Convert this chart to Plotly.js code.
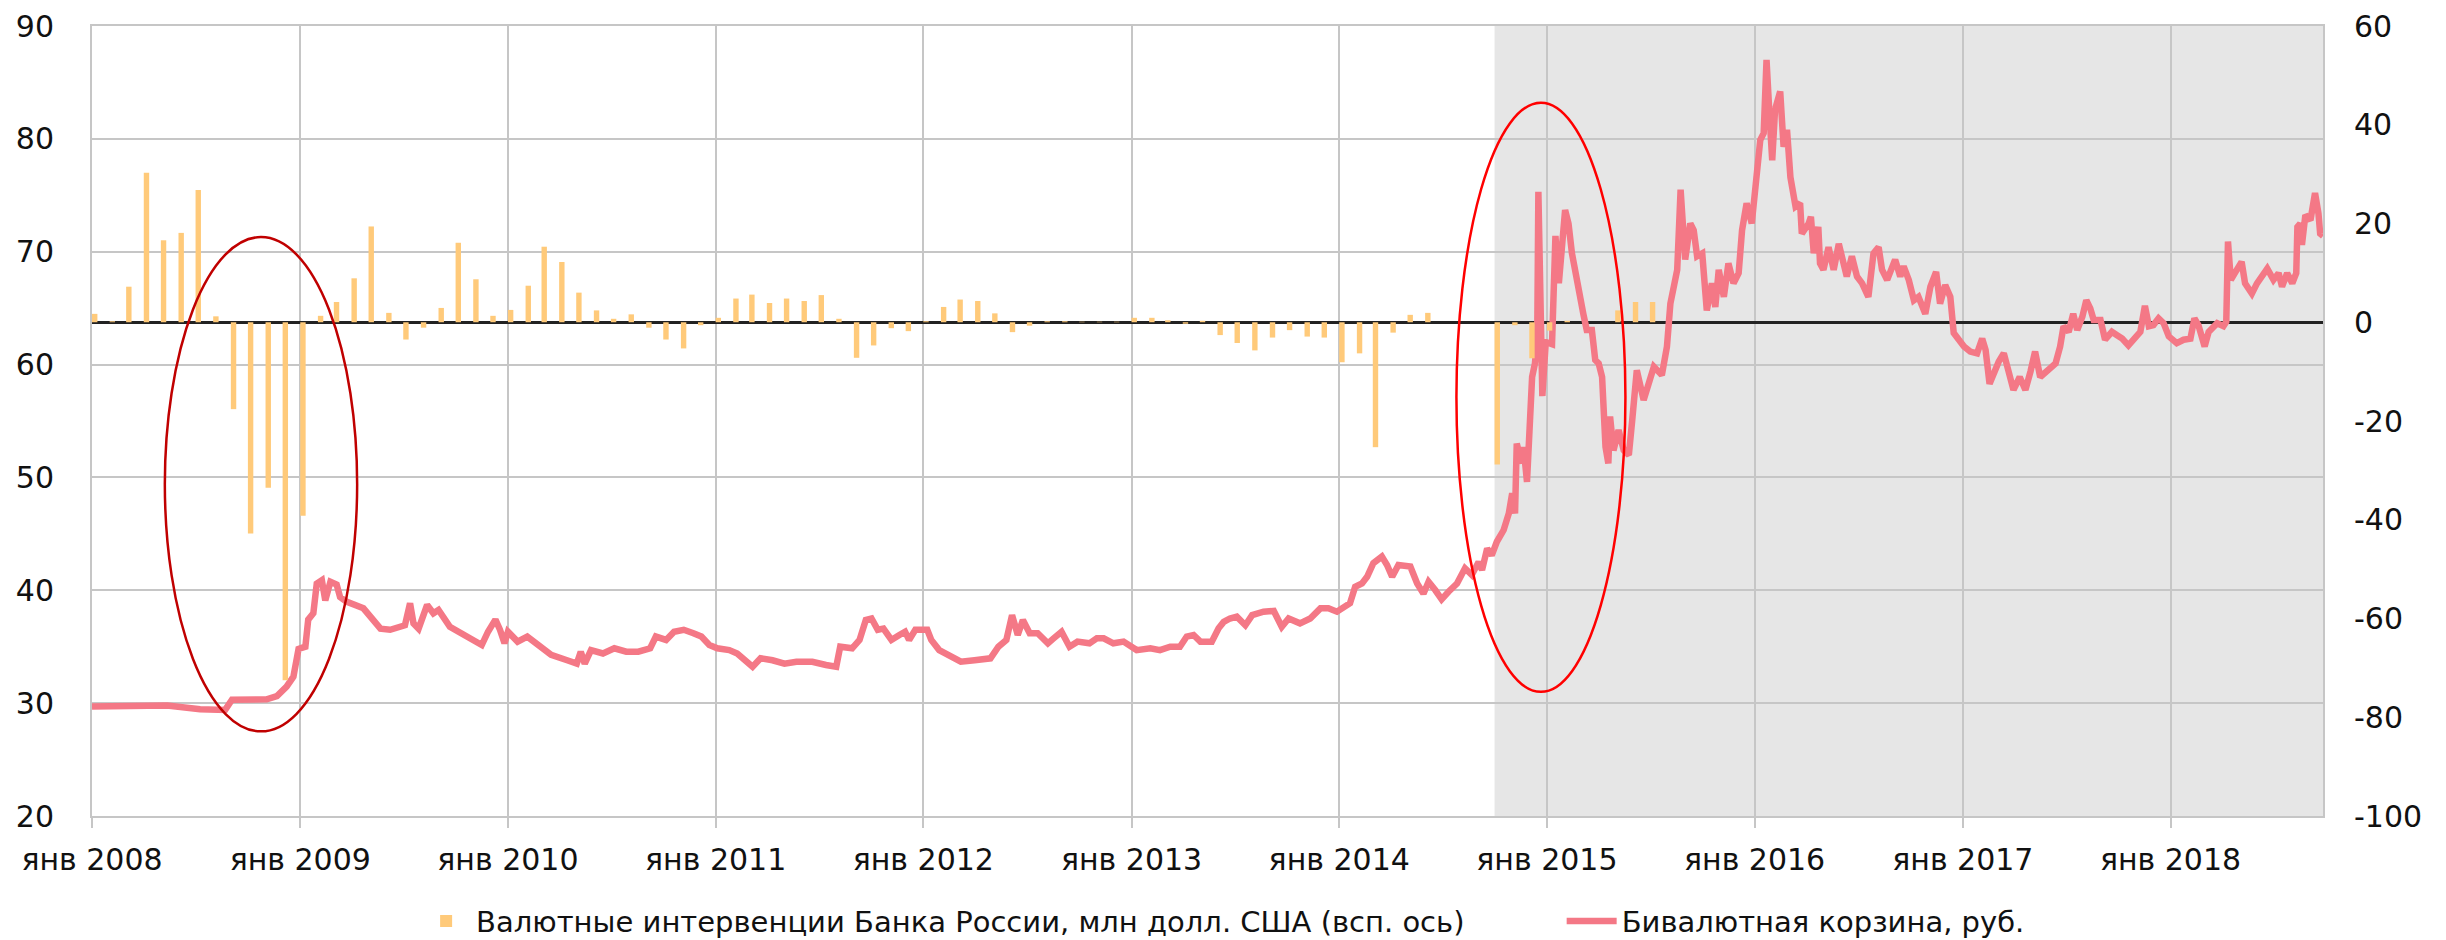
<!DOCTYPE html>
<html>
<head>
<meta charset="utf-8">
<script src="https://cdn.plot.ly/plotly-3.0.1.min.js"></script>
<style>
html,body{margin:0;padding:0;background:#fff;}
#chart{width:2446px;height:940px;}
</style>
</head>
<body>
<div id="chart"></div>
<script>
// ---------- DATA ----------
// Бивалютная корзина, руб. (readings from the picture)
const basketDates = [
 '2008-01-01','2008-02-19','2008-03-20','2008-05-12','2008-07-09','2008-08-08','2008-08-22','2008-09-03','2008-11-03','2008-11-21','2008-12-08','2008-12-20','2008-12-29',
 '2009-01-10','2009-01-15','2009-01-24','2009-01-30','2009-02-08','2009-02-14','2009-02-23','2009-03-06','2009-03-12','2009-03-23','2009-04-22','2009-05-22','2009-06-08','2009-07-04','2009-07-13','2009-07-19','2009-07-28','2009-08-12','2009-08-23','2009-09-01','2009-09-21','2009-10-21','2009-11-16','2009-11-27','2009-12-10','2009-12-18','2009-12-26',
 '2010-01-01','2010-01-18','2010-02-04','2010-02-25','2010-03-18','2010-04-15','2010-05-02','2010-05-09','2010-05-16','2010-05-27','2010-06-17','2010-07-07','2010-07-28','2010-08-18','2010-09-08','2010-09-18','2010-10-06','2010-10-20','2010-11-06','2010-11-23','2010-12-07','2010-12-21',
 '2011-01-04','2011-01-25','2011-02-08','2011-03-07','2011-03-21','2011-04-11','2011-05-02','2011-05-23','2011-06-20','2011-07-14','2011-08-01','2011-08-08','2011-08-29','2011-09-11','2011-09-22','2011-10-02','2011-10-13','2011-10-23','2011-11-06','2011-11-20','2011-11-30','2011-12-07','2011-12-18',
 '2012-01-08','2012-01-15','2012-01-29','2012-02-18','2012-03-07','2012-03-31','2012-04-28','2012-05-12','2012-05-26','2012-06-05','2012-06-15','2012-06-24','2012-07-06','2012-07-20','2012-08-07','2012-08-17','2012-08-31','2012-09-14','2012-09-28','2012-10-19','2012-11-01','2012-11-13','2012-11-30','2012-12-18',
 '2013-01-10','2013-02-03','2013-02-20','2013-03-10','2013-03-27','2013-04-08','2013-04-20','2013-05-02','2013-05-22','2013-06-03','2013-06-12','2013-06-23','2013-07-05','2013-07-20','2013-08-01','2013-08-21','2013-09-08','2013-09-22','2013-10-04','2013-10-24','2013-11-11','2013-11-29','2013-12-13','2013-12-28',
 '2014-01-20','2014-01-29','2014-02-10','2014-02-19','2014-03-02','2014-03-17','2014-03-26','2014-04-04','2014-04-15','2014-05-06','2014-05-18','2014-05-29','2014-06-07','2014-06-19','2014-06-30','2014-07-12','2014-07-27','2014-08-10','2014-08-22','2014-09-03','2014-09-09','2014-09-18','2014-09-26','2014-10-05','2014-10-17','2014-10-26','2014-11-01','2014-11-06','2014-11-09','2014-11-18','2014-11-21','2014-11-27','2014-12-03','2014-12-06','2014-12-11','2014-12-15','2014-12-17','2014-12-20','2014-12-24','2014-12-30',
 '2015-01-10','2015-01-16','2015-01-22','2015-02-02','2015-02-08','2015-02-14','2015-02-23','2015-03-01','2015-03-06','2015-03-12','2015-03-21','2015-03-27','2015-04-02','2015-04-08','2015-04-14','2015-04-19','2015-04-22','2015-04-28','2015-05-07','2015-05-16','2015-05-25','2015-05-31','2015-06-08','2015-06-20','2015-06-29','2015-07-08','2015-07-22','2015-07-31','2015-08-06','2015-08-12','2015-08-18','2015-08-24','2015-09-01','2015-09-10','2015-09-16','2015-09-22','2015-10-01','2015-10-09','2015-10-18','2015-10-24','2015-10-30','2015-11-08','2015-11-16','2015-11-25','2015-12-04','2015-12-10','2015-12-18','2015-12-27',
 '2016-01-02','2016-01-11','2016-01-17','2016-01-22','2016-01-27','2016-02-01','2016-02-06','2016-02-15','2016-02-21','2016-02-27','2016-03-04','2016-03-13','2016-03-21','2016-03-24','2016-04-05','2016-04-09','2016-04-14','2016-04-22','2016-04-25','2016-05-01','2016-05-10','2016-05-19','2016-05-28','2016-06-05','2016-06-11','2016-06-20','2016-06-29','2016-07-08','2016-07-19','2016-07-28','2016-08-06','2016-08-12','2016-08-21','2016-09-04','2016-09-13','2016-09-19','2016-09-28','2016-10-07','2016-10-15','2016-10-27','2016-11-05','2016-11-15','2016-11-22','2016-12-01','2016-12-10','2016-12-16','2016-12-25',
 '2017-01-03','2017-01-14','2017-01-26','2017-02-04','2017-02-10','2017-02-17','2017-02-24','2017-03-05','2017-03-14','2017-03-22','2017-03-31','2017-04-11','2017-04-21','2017-04-30','2017-05-08','2017-05-17','2017-05-29','2017-06-13','2017-06-21','2017-06-27','2017-07-06','2017-07-14','2017-07-21','2017-07-30','2017-08-06','2017-08-13','2017-08-19','2017-08-31','2017-09-08','2017-09-20','2017-09-29','2017-10-08','2017-10-19','2017-10-28','2017-11-09','2017-11-17','2017-11-24','2017-12-02','2017-12-11','2017-12-20','2017-12-29',
 '2018-01-12','2018-01-24','2018-02-05','2018-02-12','2018-02-19','2018-03-02','2018-03-09','2018-03-24','2018-04-04','2018-04-09','2018-04-12','2018-04-17','2018-04-24','2018-05-06','2018-05-12','2018-05-24','2018-06-02','2018-06-10','2018-06-20','2018-07-01','2018-07-10','2018-07-16','2018-07-25','2018-08-03','2018-08-10','2018-08-12','2018-08-17','2018-08-20','2018-08-26','2018-09-04','2018-09-12','2018-09-18','2018-09-21','2018-09-26'
];
const basketValues = [
 29.7,29.75,29.7,29.8,29.45,29.33,29.4,30.3,30.34,30.63,31.46,32.35,34.8,
 35.0,37.4,37.96,40.6,40.9,39.1,40.76,40.5,39.4,39.0,38.4,36.6,36.5,36.9,38.85,37.07,36.6,38.7,37.96,38.25,36.77,35.9,35.15,36.33,37.4,36.5,35.3,
 36.33,35.45,35.9,35.0,34.27,33.8,33.5,34.56,33.5,34.7,34.4,34.86,34.56,34.56,34.86,35.9,35.6,36.33,36.5,36.2,35.9,35.15,
 34.86,34.7,34.4,33.23,33.97,33.8,33.5,33.67,33.67,33.38,33.23,35.0,34.86,35.6,37.37,37.5,36.5,36.6,35.6,36.04,36.33,35.6,36.5,
 36.5,35.6,34.7,34.1,33.67,33.8,33.97,35.0,35.6,37.8,36.04,37.37,36.2,36.2,35.3,35.74,36.33,35.0,35.45,35.3,35.74,35.74,35.3,35.45,
 34.7,34.86,34.7,35.0,35.0,35.9,36.04,35.45,35.45,36.63,37.2,37.5,37.66,36.9,37.8,38.1,38.17,36.77,37.5,37.07,37.5,38.4,38.4,38.1,
 38.85,40.3,40.6,41.2,42.4,42.98,42.24,41.2,42.24,42.1,40.6,39.7,40.76,40.0,39.2,39.87,40.6,41.95,41.36,42.5,41.8,43.7,43.1,44.3,45.34,46.8,48.6,46.8,53.0,51.25,52.7,49.6,56.0,58.9,60.1,62.5,75.3,66.9,57.2,62.0,
 61.8,71.4,67.2,73.7,72.5,69.86,67.2,65.4,64.5,63.06,63.06,60.4,60.1,58.9,52.7,51.25,55.4,52.4,54.2,52.4,51.99,55.1,59.5,56.86,58.3,59.8,59.07,61.6,65.4,67.2,68.4,75.5,69.3,72.5,71.9,69.6,69.86,64.8,67.2,65.1,68.4,66.0,68.97,67.2,68.1,71.9,74.3,72.5,
 76.06,79.9,80.5,87.0,82.3,78.1,82.6,84.2,79.3,80.8,76.6,74.0,74.3,71.6,72.5,73.1,69.86,72.2,68.97,68.4,70.4,68.4,70.7,68.97,67.8,69.6,67.8,67.2,66.0,69.86,70.4,68.4,67.5,69.3,67.8,68.7,67.5,65.7,66.0,64.5,66.9,68.2,65.4,67.05,66.0,62.8,62.2,
 61.6,61.15,61.0,62.3,61.3,58.3,59.2,60.26,61.0,59.4,57.75,58.9,57.75,59.4,61.15,58.9,59.5,60.1,61.6,63.4,62.9,64.5,63.06,64.24,65.7,64.98,63.95,63.95,62.2,62.9,62.6,62.3,61.7,62.3,62.9,65.2,63.4,63.5,64.1,63.66,62.5,
 61.9,62.2,62.3,64.1,63.5,61.6,62.9,63.66,63.4,63.8,70.9,67.5,68.1,69.1,67.2,66.3,67.2,67.8,68.5,67.5,68.1,66.9,68.1,67.2,68.1,72.2,72.5,70.6,73.25,72.8,75.2,73.4,71.6,71.4
];

// Валютные интервенции Банка России, млн долл. США (monthly, Jan..Dec)
const interventionYears = [2008, 2009, 2010, 2011, 2012, 2013, 2014, 2015];
const intervention2008 = [1.7, 0.2, 7.2, 30.3, 16.6, 18.1, 26.8, 1.2, -17.6, -42.8, -33.5, -72.5];
const intervention2009 = [-39.2, 1.3, 4.1, 8.9, 19.4, 1.9, -3.5, -1.1, 2.9, 16.1, 8.7, 1.3];
const intervention2010 = [2.5, 7.4, 15.3, 12.2, 6.0, 2.4, 0.7, 1.6, -1.1, -3.5, -5.3, -0.6];
const intervention2011 = [0.9, 4.8, 5.6, 3.9, 4.8, 4.3, 5.5, 0.7, -7.2, -4.7, -1.2, -1.8];
const intervention2012 = [0.2, 3.1, 4.6, 4.3, 1.8, -2.0, -0.7, 0.2, 0.2, 0.1, 0.1, 0.1];
const intervention2013 = [0.9, 0.9, 0.4, -0.3, 0.3, -2.6, -4.2, -5.7, -3.1, -1.6, -2.9, -3.1];
const intervention2014 = [-8.1, -6.3, -25.3, -2.1, 1.5, 1.9, 0, 0, 0, -28.8, -0.6, -7.3];
const intervention2015 = [-1.7, 0.3, 0, 0, 2.4, 4.1, 4.1];
const interventionByYear = [intervention2008, intervention2009, intervention2010, intervention2011,
                            intervention2012, intervention2013, intervention2014, intervention2015];

// Axis ticks
const xTickVals = ['2008-01-01','2009-01-01','2010-01-01','2011-01-01','2012-01-01','2013-01-01',
                   '2014-01-01','2015-01-01','2016-01-01','2017-01-01','2018-01-01'];
const xTickText = ['янв 2008','янв 2009','янв 2010','янв 2011','янв 2012','янв 2013',
                   'янв 2014','янв 2015','янв 2016','янв 2017','янв 2018'];
const leftTicks = [20, 30, 40, 50, 60, 70, 80, 90];
const rightTicks = [-100, -80, -60, -40, -20, 0, 20, 40, 60];
const rightTickText = ['-100', '-80', '-60', '-40', '-20', '0', '20', '40', '60'];
const xRange = ['2008-01-01', '2018-09-26'];
const shadeStart = '2014-10-01';
// highlighted periods (ellipses): [date from, date to, basket value low, basket value high]
const highlight2008 = ['2008-05-08', '2009-04-11', 27.5, 71.3];
const highlight2014 = ['2014-07-26', '2015-05-19', 31.0, 83.2];

const nameBars = 'Валютные интервенции Банка России, млн долл. США (всп. ось)';
const nameLine = 'Бивалютная корзина, руб.';
const legendGap = '\u00a0'.repeat(10); // spacing between the two legend entries

// ---------- BUILD ----------
const barX = [], barY = [];
interventionYears.forEach((yr, i) => {
  interventionByYear[i].forEach((v, m) => {
    barX.push(yr + '-' + String(m + 1).padStart(2, '0') + '-01');
    barY.push(v);
  });
});

const DAY = 86400000;

const traces = [
  {
    type: 'bar', name: nameBars + legendGap, x: barX, y: barY, yaxis: 'y2',
    width: 9.5 * DAY, offset: 0,
    marker: {color: '#ffca7a', line: {width: 0}},
    hoverinfo: 'skip'
  },
  {
    type: 'scatter', mode: 'lines', name: nameLine, x: basketDates, y: basketValues,
    line: {color: '#f47886', width: 6.5},
    hoverinfo: 'skip'
  }
];

const gridC = '#c6c6c6';
const layout = {
  width: 2446, height: 940,
  margin: {l: 92, r: 123, t: 26, b: 124, pad: 0, autoexpand: false},
  paper_bgcolor: '#ffffff', plot_bgcolor: '#ffffff',
  font: {family: 'DejaVu Sans, sans-serif', size: 30, color: '#111111'},
  showlegend: true,
  legend: {
    orientation: 'h', x: 0.507, xanchor: 'center', y: -0.133, yanchor: 'middle',
    font: {size: 29, color: '#111111'}, bgcolor: 'rgba(0,0,0,0)', itemwidth: 50,
    traceorder: 'normal'
  },
  xaxis: {
    type: 'date', range: xRange, tickvals: xTickVals, ticktext: xTickText,
    showgrid: true, gridcolor: gridC, gridwidth: 2,
    ticks: 'outside', ticklen: 10, tickwidth: 2, tickcolor: gridC,
    showline: true, linecolor: gridC, linewidth: 2, mirror: true,
    zeroline: false, ticklabelstandoff: 6, fixedrange: true
  },
  yaxis: {
    range: [20, 90], tickvals: leftTicks,
    showgrid: true, gridcolor: gridC, gridwidth: 2,
    showline: true, linecolor: gridC, linewidth: 2, mirror: true,
    ticks: '', zeroline: false, ticklabelstandoff: 30, fixedrange: true
  },
  yaxis2: {
    overlaying: 'y', side: 'right', range: [-100, 60], tickvals: rightTicks, ticktext: rightTickText,
    showgrid: false, showline: false, ticks: '',
    zeroline: true, zerolinecolor: '#222222', zerolinewidth: 3,
    ticklabelstandoff: 30, fixedrange: true
  },
  shapes: [
    {type: 'rect', xref: 'x', yref: 'paper', x0: shadeStart, x1: xRange[1], y0: 0, y1: 1,
     fillcolor: '#e6e6e6', line: {width: 0}, layer: 'below'},
    {type: 'circle', xref: 'x', yref: 'y', x0: highlight2008[0], x1: highlight2008[1],
     y0: highlight2008[2], y1: highlight2008[3], line: {color: '#c00000', width: 2.5}, layer: 'above'},
    {type: 'circle', xref: 'x', yref: 'y', x0: highlight2014[0], x1: highlight2014[1],
     y0: highlight2014[2], y1: highlight2014[3], line: {color: '#ff0000', width: 2.5}, layer: 'above'}
  ]
};

Plotly.newPlot('chart', traces, layout, {displayModeBar: false, staticPlot: true});
</script>
</body>
</html>
